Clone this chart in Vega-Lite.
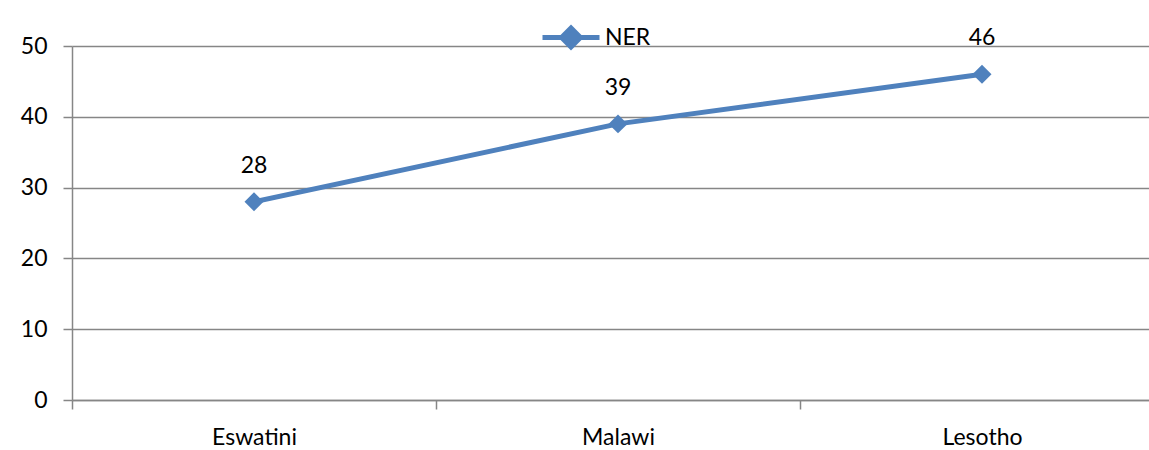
{
  "$schema": "https://vega.github.io/schema/vega-lite/v6.json",
  "width": 1092,
  "height": 354,
  "autosize": {"type": "none"},
  "padding": {"left": 72, "top": 46, "right": 0, "bottom": 50},
  "background": "white",
  "config": {
    "view": {"stroke": null},
    "font": "Lato"
  },
  "data": {
    "values": [
      {"country": "Eswatini", "NER": 28},
      {"country": "Malawi", "NER": 39},
      {"country": "Lesotho", "NER": 46}
    ]
  },
  "encoding": {
    "x": {
      "field": "country",
      "type": "nominal",
      "sort": null,
      "scale": {"paddingInner": 0, "paddingOuter": 0},
      "axis": {
        "title": null,
        "labelAngle": 0,
        "tickBand": "extent",
        "grid": false,
        "domainColor": "#868686",
        "domainWidth": 1.5,
        "tickColor": "#868686",
        "tickWidth": 1.5,
        "tickSize": 9,
        "labelFontSize": 23,
        "labelColor": "#000000",
        "labelPadding": 17
      }
    },
    "y": {
      "field": "NER",
      "type": "quantitative",
      "scale": {"domain": [0, 50]},
      "axis": {
        "title": null,
        "values": [0, 10, 20, 30, 40, 50],
        "grid": true,
        "gridColor": "#868686",
        "gridWidth": 1.5,
        "domainColor": "#868686",
        "domainWidth": 1.5,
        "tickColor": "#868686",
        "tickWidth": 1.5,
        "tickSize": 9,
        "labelFontSize": 23,
        "labelColor": "#000000",
        "labelPadding": 16
      }
    }
  },
  "layer": [
    {
      "mark": {"type": "line", "strokeWidth": 5, "strokeCap": "round", "strokeJoin": "round"},
      "encoding": {
        "color": {
          "datum": "NER",
          "scale": {"range": ["#4F81BD"]},
          "legend": {
            "title": null,
            "orient": "none",
            "legendX": 468,
            "legendY": -39.5,
            "padding": 0,
            "symbolType": "M-1,0L1,0M0,-0.33L0.33,0L0,0.33L-0.33,0Z",
            "symbolSize": 3249,
            "symbolStrokeWidth": 5,
            "symbolStrokeColor": "#4F81BD",
            "symbolFillColor": "#4F81BD",
            "labelFontSize": 23,
            "labelColor": "#000000",
            "labelOffset": 3
          }
        }
      }
    },
    {
      "mark": {"type": "point", "shape": "diamond", "filled": true, "size": 360, "opacity": 1, "color": "#4F81BD"}
    },
    {
      "mark": {"type": "text", "dy": -29, "baseline": "alphabetic", "fontSize": 23, "color": "#000000"},
      "encoding": {"text": {"field": "NER", "type": "quantitative"}}
    }
  ]
}
